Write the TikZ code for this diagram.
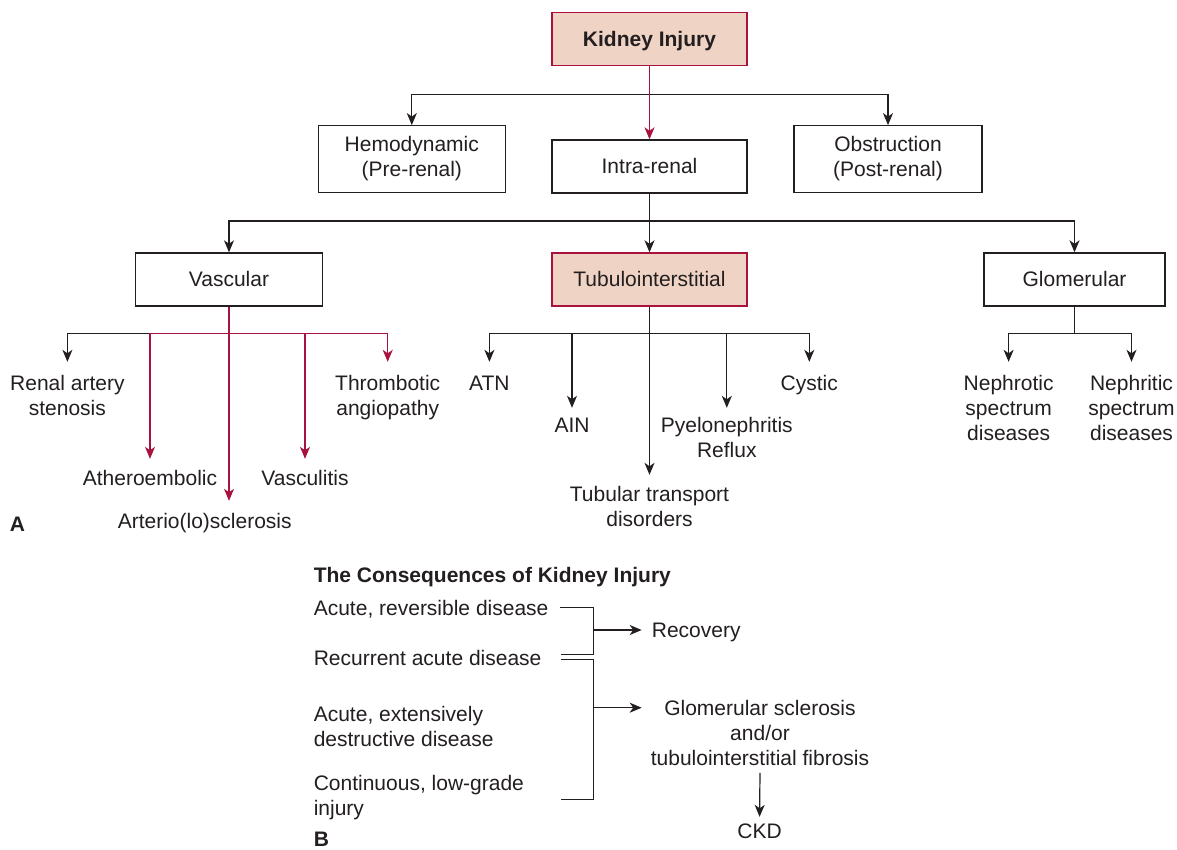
\documentclass[tikz,border=0pt]{standalone}
\usepackage{fontspec}
\setmainfont{Liberation Sans}
\usetikzlibrary{arrows.meta}
\definecolor{ink}{HTML}{231F20}
\definecolor{crim}{HTML}{A8123E}
\definecolor{pinkf}{HTML}{EFD3C4}
\newcommand\mlc[1]{\begin{tabular}[t]{@{}c@{}}#1\end{tabular}}
\newcommand\mll[1]{\begin{tabular}[t]{@{}l@{}}#1\end{tabular}}
\newcommand\mlm[1]{\begin{tabular}{@{}c@{}}#1\end{tabular}}
\begin{document}
\begin{tikzpicture}[x=1pt,y=-1pt,
  every node/.style={font=\fontsize{21}{25}\selectfont, text=ink, inner sep=0pt},
  bold/.style={font=\fontsize{21}{25}\selectfont\bfseries},
  box/.style={draw=ink, line width=1.2pt, fill=white, minimum height=53pt, align=center},
  hot/.style={box, draw=crim, fill=pinkf},
  one/.style={text height=15pt, text depth=0pt},
  lbl/.style={anchor=base},
  lblw/.style={anchor=base west},
  link/.style={draw=ink, line width=1.2pt},
  arr/.style={link, -{Stealth[length=12pt,width=10pt,inset=3.5pt]}},
  rarr/.style={arr, draw=crim},
]
\fill[white] (0,0) rectangle (1177,849);
\useasboundingbox (0,0) rectangle (1177,849);

% boxes
\node[hot, one, bold, minimum width=195pt] (ki) at (649.5,39.2) {Kidney Injury};
\node[box, minimum width=187pt, minimum height=67pt] (hemo) at (411.8,159.2) {\mlm{Hemodynamic\\(Pre-renal)}};
\node[box, one, minimum width=195pt] (intra) at (649.5,166.4) {Intra-renal};
\node[box, minimum width=188pt, minimum height=67pt] (obst) at (888,159.2) {\mlm{Obstruction\\(Post-renal)}};
\node[box, one, minimum width=187pt] (vasc) at (229,279.4) {Vascular};
\node[hot, one, minimum width=195pt] (tubu) at (649.5,279.4) {Tubulointerstitial};
\node[box, one, minimum width=181pt] (glom) at (1074.5,279.4) {Glomerular};

% labels part A
\node[lbl] (renal) at (67.4,390.5) {\mlc{Renal artery\\stenosis}};
\node[lbl] (thromb) at (387.7,390.5) {\mlc{Thrombotic\\angiopathy}};
\node[lbl] (athero) at (150,485.5) {\mlc{Atheroembolic}};
\node[lbl] (vascu) at (305,485.5) {\mlc{Vasculitis}};
\node[lbl] (arter) at (204.7,528.5) {\mlc{Arterio(lo)sclerosis}};
\node[lblw, bold] (labA) at (9.6,531.5) {A};
\node[lbl] (atn) at (489.4,390.5) {\mlc{ATN}};
\node[lbl] (ain) at (572,432.5) {\mlc{AIN}};
\node[lbl] (pyelo) at (726.8,432.5) {\mlc{Pyelonephritis\\Reflux}};
\node[lbl] (cystic) at (809.3,390.5) {\mlc{Cystic}};
\node[lbl] (tubtr) at (649.5,501.5) {\mlc{Tubular transport\\disorders}};
\node[lbl] (nephrot) at (1008.6,390.5) {\mlc{Nephrotic\\spectrum\\diseases}};
\node[lbl] (nephrit) at (1131.5,390.5) {\mlc{Nephritic\\spectrum\\diseases}};

% part B
\node[lblw, bold] (title) at (313.6,582.5) {The Consequences of Kidney Injury};
\node[lblw] (c1) at (313.6,615.8) {\mll{Acute, reversible disease}};
\node[lblw] (c2) at (313.6,665.8) {\mll{Recurrent acute disease}};
\node[lblw] (c3) at (313.6,721.5) {\mll{Acute, extensively\\destructive disease}};
\node[lblw] (c4) at (313.6,790.8) {\mll{Continuous, low-grade\\injury}};
\node[lblw, bold] (labB) at (313.6,846) {B};
\node[lblw] (recov) at (651.7,637.5) {\mll{Recovery}};
\node[lbl] (glsc) at (760,715.2) {\mlc{Glomerular sclerosis\\and/or\\tubulointerstitial fibrosis}};
\node[lbl] (ckd) at (759.5,838.5) {\mlc{CKD}};

% top level connectors
\coordinate (j1) at (ki.south |- 0,94.3);
\draw[arr] (j1) -| (hemo.north);
\draw[arr] (j1) -| (obst.north);
\draw[rarr] (ki.south) -- (intra.north);

\coordinate (j2) at (intra.south |- 0,221);
\draw[link] (intra.south) -- (j2);
\draw[arr] (j2) -| (vasc.north);
\draw[arr] (j2) -| (glom.north);
\draw[arr] (j2) -- (tubu.north);

% vascular
\coordinate (j3) at (vasc.south |- 0,333.3);
\coordinate (j3b) at (athero.north |- j3);
\draw[arr, shorten >=11pt] (j3b) -| (renal.north);
\draw[rarr, shorten >=9pt] (j3) -| (athero.north);
\draw[rarr, shorten >=9pt] (j3) -| (vascu.north);
\draw[rarr, shorten >=11pt] (j3) -| (thromb.north);
\draw[rarr, shorten >=10pt] (vasc.south) -- (vasc.south |- arter.north);

% tubulointerstitial
\coordinate (j4) at (tubu.south |- 0,333.3);
\draw[arr, shorten >=11pt] (j4) -| (atn.north);
\draw[arr, shorten >=7pt] (j4) -| (ain.north);
\draw[arr, shorten >=7pt] (j4) -| (pyelo.north);
\draw[arr, shorten >=11pt] (j4) -| (cystic.north);
\draw[arr, shorten >=9pt] (tubu.south) -- (tubtr.north);

% glomerular
\coordinate (j5) at (glom.south |- 0,333.3);
\draw[link] (glom.south) -- (j5);
\draw[arr, shorten >=11pt] (j5) -| (nephrot.north);
\draw[arr, shorten >=11pt] (j5) -| (nephrit.north);

% part B brackets
\coordinate (b1) at (559.6,607.3);
\coordinate (b2) at (593.6,607.3);
\coordinate (b3) at (593.6,654.3);
\coordinate (b4) at (560.7,654.3);
\draw[link] (b1) -- (b2) -- (b3) -- (b4);
\coordinate (b5) at (560.7,659.3);
\coordinate (b6) at (593.6,659.3);
\coordinate (b7) at (593.6,799.3);
\coordinate (b8) at (560.7,799.3);
\draw[link] (b5) -- (b6) -- (b7) -- (b8);
\coordinate (r1) at (593.6,630);
\draw[arr, shorten >=10pt] (r1) -- (r1 -| recov.west);
\coordinate (r2) at (593.6,707.7);
\draw[arr, shorten >=9pt] (r2) -- (r2 -| glsc.west);
\draw[arr, shorten >=4pt] (glsc.south) -- (ckd.north);
\end{tikzpicture}
\end{document}
